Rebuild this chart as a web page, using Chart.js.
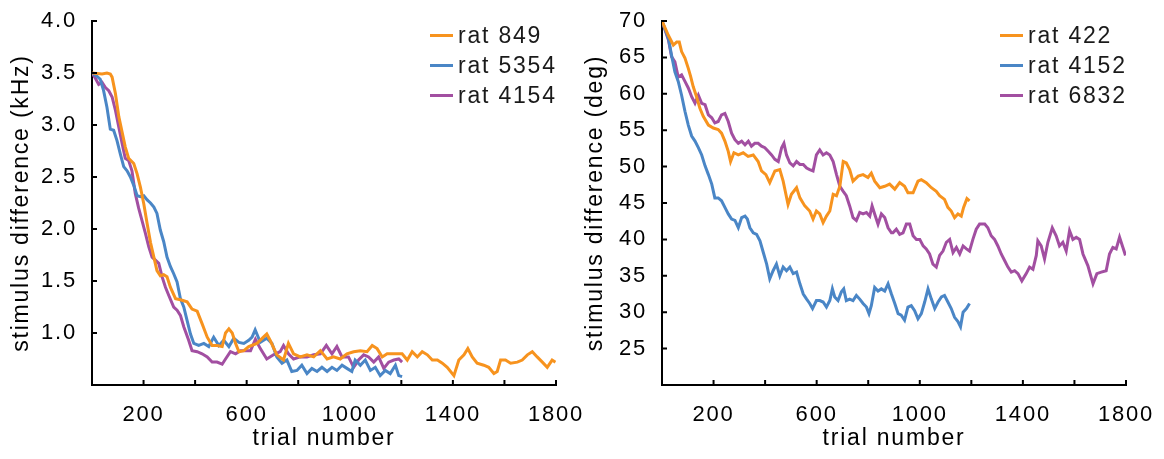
<!DOCTYPE html>
<html>
<head>
<meta charset="utf-8">
<script src="https://cdn.jsdelivr.net/npm/chart.js@4.4.1/dist/chart.umd.min.js"></script>
<style>
  html, body { margin: 0; padding: 0; background: #fff; overflow: hidden; }
  #wrap { position: relative; width: 1164px; height: 459px; }
  canvas { position: absolute; top: 0; }
  #c1 { left: 0; }
  #c2 { left: 570px; }
  .legend { position: absolute; top: 20px; font: 23px 'Liberation Sans', Arial, sans-serif; letter-spacing: 1.8px; color: #1a1a1a; }
  .legend .row { height: 30px; display: flex; align-items: center; }
  .legend .swatch { width: 23px; height: 3px; margin-right: 5px; }
</style>
</head>
<body>
<div id="wrap">
  <canvas id="c1" width="600" height="459"></canvas>
  <canvas id="c2" width="594" height="459"></canvas>
  <div class="legend" id="leg1" style="left:430px"></div>
  <div class="legend" id="leg2" style="left:1000px"></div>
</div>
<script>
// ---- left panel: frequency task (kHz) ----
const freqLabels = ['rat 849', 'rat 5354', 'rat 4154'];

const rat849Trials = [0,39,58,71,78,91,104,117,129,142,162,175,188,201,214,227,240,252,265,278,
  291,304,324,343,369,388,408,427,447,466,485,505,518,531,544,557,570,589,608,640,
  665,678,691,717,743,762,782,808,834,860,886,912,937,963,989,1015,1041,1067,1087,1106,
  1126,1145,1171,1203,1223,1242,1262,1281,1301,1320,1340,1359,1378,1404,1423,1443,1458,1475,1494,1520,
  1539,1559,1572,1585,1604,1624,1650,1669,1689,1708,1727,1747,1766,1785,1798];
const rat849Diff = [3.5,3.49,3.5,3.49,3.46,3.30,3.08,2.93,2.79,2.68,2.63,2.53,2.40,2.24,2.05,1.87,1.73,1.60,1.55,1.56,
  1.54,1.44,1.33,1.32,1.30,1.23,1.21,1.09,0.96,0.88,0.88,0.87,1.0,1.04,1.0,0.90,0.82,0.83,0.87,0.90,
  0.96,0.99,0.93,0.79,0.74,0.90,0.80,0.77,0.79,0.77,0.83,0.75,0.77,0.75,0.80,0.82,0.83,0.82,0.88,0.85,
  0.77,0.80,0.80,0.80,0.74,0.82,0.77,0.82,0.79,0.74,0.74,0.71,0.67,0.59,0.74,0.79,0.85,0.77,0.71,0.69,
  0.67,0.61,0.63,0.74,0.74,0.71,0.72,0.74,0.79,0.82,0.77,0.72,0.67,0.74,0.72];

const rat5354Trials = [0,19,32,45,58,71,84,97,110,123,136,149,162,175,188,201,214,227,240,252,
  265,278,291,304,317,330,343,356,369,382,395,414,434,453,472,492,511,531,550,570,
  589,608,621,633,653,678,698,717,737,756,775,795,814,834,853,873,892,912,931,950,
  970,989,1008,1021,1041,1060,1080,1099,1118,1138,1157,1177,1190,1203];
const rat5354Diff = [3.5,3.47,3.44,3.33,3.17,2.96,2.95,2.85,2.72,2.60,2.56,2.50,2.42,2.32,2.31,2.32,2.28,2.25,2.21,2.15,
  1.99,1.88,1.73,1.64,1.57,1.49,1.33,1.25,1.12,0.99,0.90,0.88,0.90,0.87,0.96,0.88,0.93,0.87,0.95,0.91,
  0.90,0.93,0.96,1.03,0.91,0.95,0.90,0.77,0.71,0.74,0.63,0.64,0.69,0.61,0.66,0.63,0.67,0.63,0.67,0.64,
  0.69,0.66,0.63,0.74,0.69,0.74,0.64,0.67,0.59,0.64,0.61,0.69,0.59,0.58];

const rat4154Trials = [0,13,26,39,52,65,78,91,104,117,129,142,155,168,181,194,207,220,233,246,
  259,272,285,298,317,330,343,356,375,388,408,427,447,466,485,505,518,537,557,576,
  595,615,634,653,678,704,730,743,762,782,808,834,860,886,909,931,950,970,995,1015,
  1034,1054,1073,1093,1112,1132,1151,1171,1190,1203];
const rat4154Diff = [3.5,3.45,3.39,3.41,3.36,3.33,3.27,3.14,2.98,2.82,2.68,2.66,2.56,2.34,2.20,2.08,1.96,1.83,1.73,1.70,
  1.67,1.54,1.44,1.36,1.25,1.22,1.17,1.06,0.93,0.83,0.82,0.80,0.77,0.72,0.72,0.70,0.75,0.82,0.80,0.83,
  0.83,0.83,0.94,0.85,0.75,0.79,0.82,0.88,0.80,0.75,0.77,0.77,0.79,0.80,0.88,0.80,0.87,0.77,0.77,0.67,
  0.74,0.79,0.77,0.72,0.77,0.66,0.72,0.74,0.75,0.72];

// ---- right panel: orientation task (deg) ----
const orientLabels = ['rat 422', 'rat 4152', 'rat 6832'];

const rat422Trials = [0,25,44,57,67,76,89,102,111,121,134,147,160,180,199,218,231,244,257,266,
  279,296,315,334,354,373,386,403,418,438,457,470,489,502,522,535,554,573,586,599,
  612,625,638,651,664,677,690,703,715,728,741,761,780,799,812,825,845,864,883,903,
  922,941,954,974,993,1006,1025,1045,1064,1077,1096,1109,1122,1135,1148,1161,1170,1183,1193];
const rat422Diff = [70,68.0,66.7,67.1,67.1,65.8,64.9,63.5,62.4,61.0,59.6,58.0,56.9,55.7,55.3,55.1,54.6,53.5,52.1,50.7,
  51.9,51.6,51.9,51.4,51.6,50.7,49.4,48.9,47.8,49.4,49.6,48.0,44.8,46.2,47.1,45.7,44.6,43.9,42.8,43.9,
  43.5,42.3,43.2,43.9,46.2,46.0,47.3,50.7,50.5,49.6,48.0,48.7,48.9,48.5,49.1,48.0,47.1,47.3,47.6,46.9,
  47.8,47.3,46.4,46.4,48.0,48.2,47.8,47.1,46.6,46.0,45.5,44.4,43.9,43.0,43.5,43.2,44.4,45.6,45.3];

const rat4152Trials = [0,25,37,50,63,76,89,102,115,128,141,154,167,180,193,205,218,231,244,257,
  270,283,296,309,322,331,341,354,367,380,393,406,418,431,444,457,470,483,496,509,
  522,535,548,561,573,584,599,612,625,638,651,661,670,683,696,705,715,728,741,754,
  767,780,793,803,812,825,838,851,864,877,890,903,916,928,941,954,967,980,993,1006,
  1019,1032,1045,1058,1071,1084,1096,1109,1122,1135,1148,1158,1168,1181,1193];
const rat4152Diff = [70,67.6,65.3,63.0,61.7,59.8,57.6,55.7,54.2,53.5,52.6,51.6,50.1,48.9,47.6,45.7,45.7,45.3,44.4,43.5,
  42.8,42.6,41.6,43.0,43.2,42.8,41.6,40.9,40.7,39.8,38.2,36.6,34.6,35.7,36.6,35.0,36.2,35.7,36.2,35.3,
  35.5,33.9,32.5,31.8,31.2,30.5,31.6,31.6,31.4,30.7,31.6,33.2,32.1,31.6,32.8,33.2,31.6,31.8,31.6,32.3,
  31.8,31.2,30.7,29.8,30.9,33.4,32.9,33.2,32.9,33.9,32.5,31.2,29.8,29.6,28.9,30.7,30.9,30.2,29.1,29.8,
  31.4,33.2,31.8,30.5,31.4,32.1,32.3,31.4,30.5,29.3,28.7,28.0,30.0,30.5,31.2];

const rat6832Trials = [0,25,37,50,63,76,89,102,115,128,141,154,167,180,193,205,218,231,244,257,
  270,283,296,309,322,335,347,360,373,386,399,412,425,438,451,464,473,483,496,509,
  522,535,548,561,573,586,599,612,625,638,651,664,677,690,703,715,728,741,754,767,
  780,793,806,815,825,838,851,864,877,890,896,909,922,935,948,961,974,987,1000,1013,
  1025,1038,1051,1064,1077,1090,1103,1116,1129,1142,1155,1168,1181,1193,1206,1219,1232,1252,1264,1277,
  1290,1303,1316,1329,1342,1355,1368,1381,1396,1413,1426,1439,1452,1458,1471,1484,1497,1514,1529,1542,
  1555,1568,1581,1594,1607,1620,1633,1652,1672,1687,1704,1723,1736,1749,1762,1775,1788,1798];
const rat6832Diff = [70,67.4,65.1,64.4,62.3,62.6,61.7,60.8,59.6,58.7,59.8,58.7,58.5,57.1,56.7,56.0,56.2,57.1,57.3,56.2,
  54.6,53.7,53.2,53.5,53.0,53.5,52.8,53.2,53.2,52.8,52.6,52.1,51.6,51.0,50.7,52.6,53.2,51.6,50.5,50.1,
  50.7,50.3,50.3,49.8,49.6,49.4,51.6,52.3,51.6,51.9,51.6,50.7,48.9,47.3,46.6,46.0,44.6,43.0,42.6,43.7,
  43.5,43.7,43.2,44.6,43.5,42.1,43.5,43.0,41.6,40.9,40.9,41.4,40.7,40.9,42.1,42.1,40.5,40.0,40.0,39.1,
  38.7,38.0,36.6,36.2,37.8,38.4,39.6,40.0,38.2,38.9,38.0,39.1,38.7,38.4,40.0,41.4,42.1,42.1,41.6,40.5,
  40.0,39.1,38.0,37.1,36.2,35.5,35.7,35.3,34.3,35.3,36.2,35.9,37.8,39.8,39.1,37.3,39.6,41.6,40.5,39.1,
  39.6,38.4,41.2,40.0,40.3,40.0,38.0,36.4,33.9,35.3,35.5,35.7,38.0,38.9,38.7,40.3,38.9,37.8];

// x axis ticks every 200, labelled every 400
const trialTickLabels = [200, 600, 1000, 1400, 1800];

const colors = ['#F7931E', '#4A86C6', '#A24FA1'];

Chart.defaults.font.family = "'Liberation Sans', Arial, sans-serif";
Chart.defaults.color = '#000';

function toPoints(xs, ys) {
  return xs.map((x, i) => ({ x: x, y: ys[i] }));
}

function makeDataset(label, xs, ys, color) {
  return {
    label: label,
    data: toPoints(xs, ys),
    borderColor: color,
    backgroundColor: color,
    borderWidth: 3,
    pointRadius: 0,
    tension: 0
  };
}

// the original figure's lettering is a bit wider than Arial
const wideText = {
  id: 'wideText',
  afterInit(chart) { chart.ctx.letterSpacing = '1.8px'; },
  beforeDraw(chart) { chart.ctx.letterSpacing = '1.8px'; }
};

// tick marks pointing into the plot area
const inwardTicks = {
  id: 'inwardTicks',
  afterDraw(chart) {
    const { ctx, chartArea, scales } = chart;
    ctx.save();
    ctx.strokeStyle = '#000';
    ctx.lineWidth = 2;
    ctx.beginPath();
    scales.x.ticks.forEach(t => {
      if (t.value === scales.x.min) return;
      const px = scales.x.getPixelForValue(t.value);
      ctx.moveTo(px, chartArea.bottom);
      ctx.lineTo(px, chartArea.bottom - 5);
    });
    scales.y.ticks.forEach(t => {
      if (t.value === scales.y.min) return;
      const py = scales.y.getPixelForValue(t.value);
      ctx.moveTo(chartArea.left, py);
      ctx.lineTo(chartArea.left + 5, py);
    });
    ctx.stroke();
    ctx.restore();
  }
};

function makeChart(id, datasets, yMin, yMax, yStep, yFmt, yTitle, rightPad, titlePad) {
  return new Chart(document.getElementById(id), {
    type: 'line',
    data: { datasets: datasets },
    plugins: [wideText, inwardTicks],
    options: {
      responsive: false,
      animation: false,
      layout: { padding: { top: 21, right: rightPad, left: 0, bottom: 0 } },
      plugins: { legend: { display: false }, tooltip: { enabled: false } },
      scales: {
        x: {
          type: 'linear',
          min: 0,
          max: 1800,
          grid: { display: false },
          border: { display: true, color: '#000', width: 2 },
          ticks: {
            stepSize: 200,
            autoSkip: false,
            maxRotation: 0,
            padding: 9,
            font: { size: 22 },
            callback: v => trialTickLabels.includes(v) ? String(v) : ''
          },
          title: { display: true, text: 'trial number', font: { size: 23 }, padding: { top: 0, bottom: 7 } },
          afterFit: s => { s.height = 74; }
        },
        y: {
          min: yMin,
          max: yMax,
          grid: { display: false },
          border: { display: true, color: '#000', width: 2 },
          ticks: {
            stepSize: yStep,
            padding: 7,
            font: { size: 22 },
            callback: v => v === yMin ? '' : yFmt(v)
          },
          title: { display: true, text: yTitle, font: { size: 23 }, padding: { top: titlePad, bottom: 0 } },
          afterFit: s => { s.width = 92; }
        }
      }
    }
  });
}

function buildLegend(chart, el) {
  chart.data.datasets.forEach(ds => {
    const row = document.createElement('div');
    row.className = 'row';
    const sw = document.createElement('span');
    sw.className = 'swatch';
    sw.style.background = ds.borderColor;
    const txt = document.createElement('span');
    txt.textContent = ds.label;
    row.appendChild(sw);
    row.appendChild(txt);
    el.appendChild(row);
  });
}

const leftChart = makeChart('c1', [
  makeDataset(freqLabels[0], rat849Trials, rat849Diff, colors[0]),
  makeDataset(freqLabels[1], rat5354Trials, rat5354Diff, colors[1]),
  makeDataset(freqLabels[2], rat4154Trials, rat4154Diff, colors[2])
], 0.5, 4.0, 0.5, v => v.toFixed(1), 'stimulus difference (kHz)', 44, 8);

const rightChart = makeChart('c2', [
  makeDataset(orientLabels[0], rat422Trials, rat422Diff, colors[0]),
  makeDataset(orientLabels[1], rat4152Trials, rat4152Diff, colors[1]),
  makeDataset(orientLabels[2], rat6832Trials, rat6832Diff, colors[2])
], 20, 70, 5, v => String(v), 'stimulus difference (deg)', 38, 12);

buildLegend(leftChart, document.getElementById('leg1'));
buildLegend(rightChart, document.getElementById('leg2'));
</script>
</body>
</html>
